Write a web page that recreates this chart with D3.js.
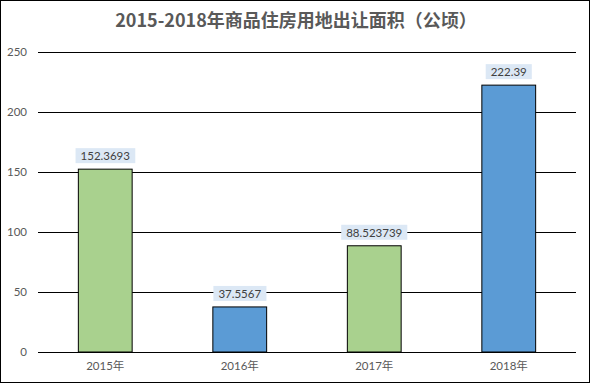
<!DOCTYPE html>
<html><head><meta charset="utf-8">
<script src="https://cdn.jsdelivr.net/npm/d3@7"></script>
<style>
html,body{margin:0;padding:0;background:#fff;}
svg{display:block;}
text{font-family:Lato,"Noto Sans CJK SC",sans-serif;}
</style></head>
<body>
<script>
const title = "2015-2018年商品住房用地出让面积（公顷）";
const categories = ["2015年","2016年","2017年","2018年"];
const values = [152.3693, 37.5567, 88.523739, 222.39];
const labels = ["152.3693","37.5567","88.523739","222.39"];
const barColors = ["#a9d18e","#5b9bd5","#a9d18e","#5b9bd5"];
const yTicks = [0,50,100,150,200,250];

const W = 592, H = 384;
const svg = d3.select("body").append("svg").attr("width", W).attr("height", H);

svg.append("rect").attr("x",0.5).attr("y",0.5).attr("width",589).attr("height",382)
  .attr("fill","#fff").attr("stroke","#000").attr("stroke-width",1);

svg.append("text").attr("x",296).attr("y",27).attr("text-anchor","middle")
  .attr("font-size",18).attr("font-weight","bold").attr("fill","#595959")
  .style("font-family",'"Noto Sans CJK SC",sans-serif').text(title);

const x = d3.scaleBand().domain(categories).range([38,576]).paddingInner(0).paddingOuter(0);
const y = d3.scaleLinear().domain([0,250]).range([352,52]);

// gridlines
svg.append("g").selectAll("line").data(yTicks).join("line")
  .attr("x1",38).attr("x2",576)
  .attr("y1",d=>Math.round(y(d))+0.5).attr("y2",d=>Math.round(y(d))+0.5)
  .attr("stroke","#000").attr("stroke-width",1);

// y axis labels
const yAxis = d3.axisLeft(y).tickValues(yTicks).tickSize(0).tickPadding(0);
const gy = svg.append("g").attr("transform","translate(27,0)").call(yAxis);
gy.select(".domain").remove();
gy.selectAll("text").attr("font-size",11.5).attr("fill","#595959")
  .style("font-family",'Lato,"Noto Sans CJK SC",sans-serif');

// bars
const bw = x.bandwidth()*0.4;
svg.append("g").selectAll("rect").data(values).join("rect")
  .attr("x",(d,i)=>x(categories[i])+ (x.bandwidth()-bw)/2)
  .attr("y",d=>y(d))
  .attr("width",bw)
  .attr("height",d=>y(0)-y(d))
  .attr("fill",(d,i)=>barColors[i])
  .attr("stroke","#000").attr("stroke-width",1);

// baseline redraw
svg.append("line").attr("x1",38).attr("x2",576).attr("y1",352.5).attr("y2",352.5)
  .attr("stroke","#000").attr("stroke-width",1.2);

// value labels with background
const lg = svg.append("g");
labels.forEach((t,i)=>{
  const cx = x(categories[i]) + x.bandwidth()/2;
  const ty = y(values[i]) - 9;
  const txt = lg.append("text").attr("x",cx).attr("y",ty).attr("text-anchor","middle")
    .attr("font-size",11.5).attr("fill","#404040").text(t);
  const bb = txt.node().getBBox();
  lg.insert("rect","text").attr("x",bb.x-5).attr("y",bb.y-1).attr("width",bb.width+10).attr("height",bb.height+2)
    .attr("fill","#dce8f5");
});

// x axis labels
const xAxis = d3.axisBottom(x).tickSize(0).tickPadding(0);
const gx = svg.append("g").attr("transform","translate(0,362)").call(xAxis);
gx.select(".domain").remove();
gx.selectAll("text").attr("font-size",11.5).attr("fill","#595959")
  .style("font-family",'Lato,"Noto Sans CJK SC",sans-serif');
</script>
</body></html>
